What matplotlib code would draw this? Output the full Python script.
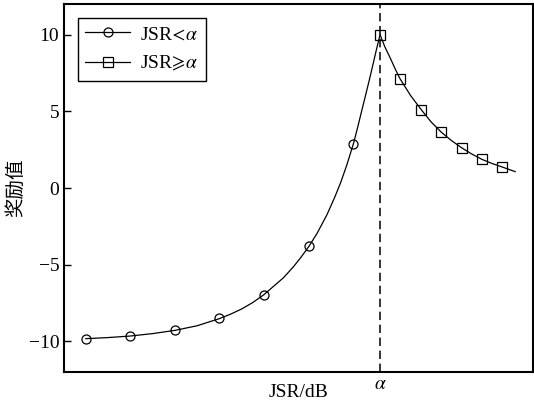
import numpy as np
import matplotlib
matplotlib.use('Agg')
import matplotlib.pyplot as plt

# ---------------------------------------------------------------------------
# Data (x in arbitrary units, alpha at x = 0)
# ---------------------------------------------------------------------------
alpha_x = 0.0

# markers, JSR < alpha
low_x = [-6.64, -5.64, -4.63, -3.63, -2.62, -1.60, -0.60]
low_y = [-9.82, -9.65, -9.28, -8.50, -6.95, -3.78, 2.90]

# markers, JSR >= alpha
high_x = [0.0, 0.45, 0.93, 1.38, 1.84, 2.30, 2.76]
high_y = [10.0, 7.13, 5.11, 3.65, 2.63, 1.87, 1.37]

# smooth curve
curve_low_x = [-6.64, -6.14, -5.64, -5.13, -4.63, -4.13, -3.63, -3.37, -3.12,
               -2.87, -2.62, -2.40, -2.18, -1.96, -1.78, -1.60, -1.42, -1.20,
               -1.03, -0.89, -0.75, -0.60, -0.51, -0.43, -0.34, -0.25, -0.16,
               -0.08, 0.0]
curve_low_y = [-9.82, -9.75, -9.65, -9.49, -9.28, -8.98, -8.52, -8.22, -7.88,
               -7.46, -6.95, -6.40, -5.85, -5.15, -4.50, -3.78, -2.95, -1.75,
               -0.65, 0.35, 1.50, 2.90, 3.90, 4.85, 5.90, 6.95, 8.05,
               9.05, 10.0]
curve_high_x = [0.0, 0.11, 0.23, 0.34, 0.45, 0.69, 0.93, 1.15, 1.38, 1.61,
                1.84, 2.07, 2.30, 2.53, 2.76, 3.05]
curve_high_y = [10.0, 9.20, 8.48, 7.78, 7.13, 6.03, 5.11, 4.32, 3.65, 3.10,
                2.63, 2.22, 1.87, 1.60, 1.37, 1.07]

y_ticks = [-10, -5, 0, 5, 10]
labels = [r'JSR$\!<\!\alpha$', r'JSR$\!\geqslant\!\alpha$']

plt.rcParams['font.family'] = ['Liberation Serif', 'Noto Sans CJK SC']
plt.rcParams['mathtext.fontset'] = 'stix'

fig = plt.figure(figsize=(5.34, 4.04), dpi=100)
ax = fig.add_axes([0.12, 0.079, 0.878, 0.911])

ax.plot(curve_low_x, curve_low_y, color='black', lw=0.9)
ax.plot(curve_high_x, curve_high_y, color='black', lw=0.9)

ax.plot(low_x, low_y, ls='none', marker='o', ms=6.5, mfc='none',
        mec='black', mew=0.9)
ax.plot(high_x, high_y, ls='none', marker='s', ms=6.5, mfc='none',
        mec='black', mew=0.9)

# legend proxies: line through marker
ax.plot([], [], color='black', lw=0.9, marker='o', ms=6.5, mfc='none',
        mec='black', mew=0.9, label=labels[0])
ax.plot([], [], color='black', lw=0.9, marker='s', ms=6.5, mfc='none',
        mec='black', mew=0.9, label=labels[1])

ax.axvline(alpha_x, color='black', ls=(0, (5.5, 3)), lw=1.1)

ax.set_xlim(-7.13, 3.45)
ax.set_ylim(-12, 12)
ax.set_yticks(y_ticks)
ax.set_yticklabels(['\u221210', '\u22125', '0', '5', '10'])
ax.set_xticks([alpha_x])
ax.set_xticklabels([r'$\alpha$'])

ax.tick_params(direction='in', length=5, width=1, labelsize=14, colors='black')
ax.tick_params(axis='x', length=0, pad=3)
for s in ax.spines.values():
    s.set_linewidth(1.5)

ax.set_xlabel('JSR/dB', fontsize=14, va='center')
ax.xaxis.set_label_coords(0.5, -0.055)
ax.set_ylabel('奖励值', fontsize=14, va='center')
ax.yaxis.set_label_coords(-0.104, 0.5)

leg = ax.legend(loc='upper left', fontsize=14, frameon=True, fancybox=False,
                edgecolor='black', framealpha=1, handlelength=2.3,
                borderpad=0.4, labelspacing=0.55, handletextpad=0.5,
                borderaxespad=0.7)
leg.get_frame().set_linewidth(1.0)

fig.savefig('out.png', dpi=100)
